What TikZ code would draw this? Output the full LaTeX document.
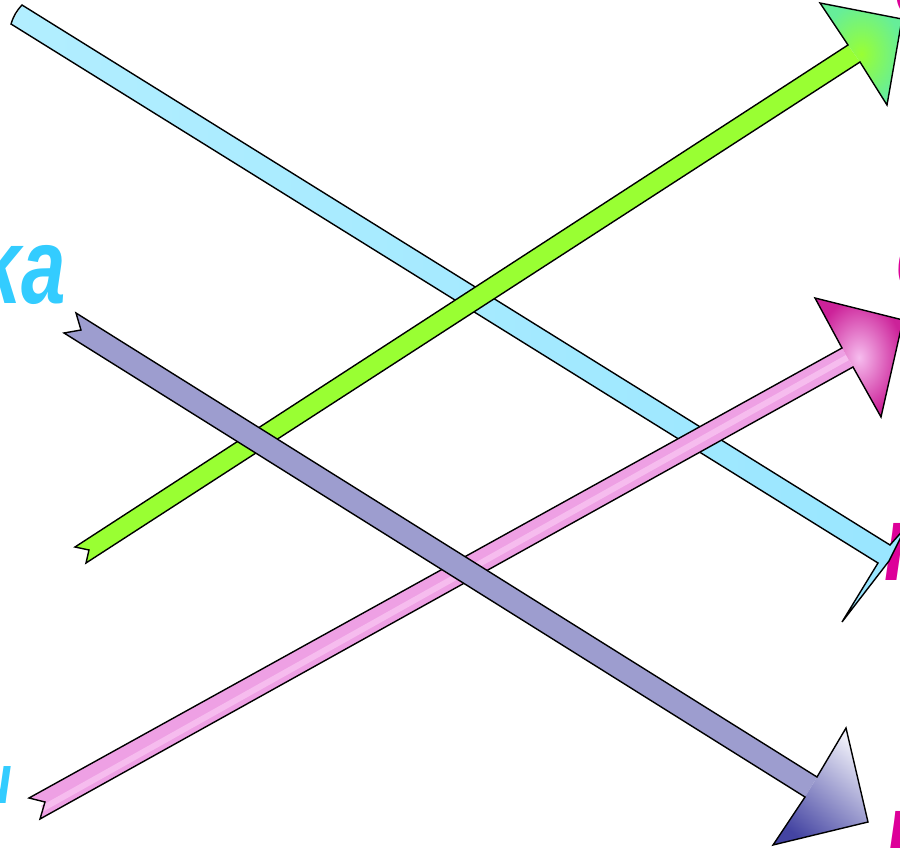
\documentclass[tikz,border=0pt]{standalone}
\usepackage{fontspec}
\usepackage{tikz}
\usetikzlibrary{calc}

\newfontfamily\wordfont{Liberation Sans}[FakeStretch=0.74]
\definecolor{skyword}{HTML}{33CCFF}
\definecolor{pinkword}{HTML}{DD0099}
\definecolor{skyfill}{HTML}{99E6FF}
\definecolor{skylight}{HTML}{B2EEFF}
\definecolor{limefill}{HTML}{99FF33}
\definecolor{limeedge}{HTML}{66EE99}
\definecolor{lilacfill}{HTML}{9D9DCF}
\definecolor{lilaclight}{HTML}{EEEEF8}
\definecolor{lilacdark}{HTML}{4444A2}
\definecolor{rosefill}{HTML}{EEA0E4}
\definecolor{roselight}{HTML}{F6BCEE}
\definecolor{rosedark}{HTML}{CC2299}

\begin{document}
\begin{tikzpicture}[x=1pt, y=-1pt,
    outl/.style={draw=black, line width=1.4pt, line join=miter},
    word/.style={font=\wordfont\bfseries\itshape\fontsize{108}{108}\selectfont, inner sep=0pt}]
    \useasboundingbox (0,0) rectangle (900,848);

    % words, cut off by the page edges
    \node[word, text=skyword, anchor=base east] (ka) at (66,303) {ka};
    \node[word, text=skyword, anchor=base east, font=\wordfont\bfseries\itshape\fontsize{70}{70}\selectfont] (u) at (12,803) {u};
    \node[word, text=pinkword, anchor=base west] (o1) at (894,17) {o};
    \node[word, text=pinkword, anchor=base west] (o2) at (896,292) {o};
    \node[word, text=pinkword, anchor=base west] (n1) at (884,580) {n};
    \node[word, text=pinkword, anchor=base west] (n2) at (886,868) {n};

    % sky blue arrow
    \coordinate (skyA) at (22,5);
    \coordinate (skyB) at (11,24);
    \coordinate (skyC) at (878,563);
    \coordinate (skyD) at (890,545);
    \shade[left color=skylight, right color=skyfill] (skyA) -- (skyD) -- (906,527) -- (889,561) -- (842,622) -- (skyC) -- (skyB) -- cycle;
    \draw[outl] (skyA) to[bend right=12] (skyB) -- (skyC) -- (842,622) -- (889,561) -- (906,527) -- (skyD) -- cycle;

    % green arrow
    \coordinate (limeA) at (75,547);
    \coordinate (limeB) at (86,563);
    \coordinate (limeC) at (860,62);
    \coordinate (limeD) at (848,45);
    \fill[limefill] (limeA) -- (limeD) -- (limeC) -- (limeB) -- (89,550) -- cycle;
    \shade[inner color=limefill, outer color=limeedge] (limeD) -- (820,3) -- (902,19) -- (887,105) -- (limeC) -- cycle;
    \draw[outl] (limeA) -- (limeD) -- (820,3) -- (902,19) -- (887,105) -- (limeC) -- (limeB) -- (89,550) -- cycle;

    % pink arrow
    \coordinate (roseA) at (29,798);
    \coordinate (roseB) at (40,819);
    \coordinate (roseC) at (853,367);
    \coordinate (roseD) at (842,348);
    \fill[rosefill] (roseA) -- (roseD) -- (roseC) -- (roseB) -- (45,802) -- cycle;
    \draw[roselight, line width=6pt] ($(roseA)!0.5!(roseB)+(8,0)$) -- ($(roseC)!0.5!(roseD)$);
    \shade[inner color=roselight, outer color=rosedark] (roseD) -- (815,298) -- (903,320) -- (881,417) -- (roseC) -- cycle;
    \draw[outl] (roseA) -- (roseD) -- (815,298) -- (903,320) -- (881,417) -- (roseC) -- (roseB) -- (45,802) -- cycle;

    % purple arrow
    \coordinate (lilacA) at (76,313);
    \coordinate (lilacB) at (64,333);
    \coordinate (lilacC) at (805,797);
    \coordinate (lilacD) at (817,777);
    \fill[lilacfill] (lilacA) -- (lilacD) -- (lilacC) -- (lilacB) -- (81,330) -- cycle;
    \shade[top color=lilaclight, bottom color=lilacdark, shading angle=-40] (lilacD) -- (846,728) -- (868,822) -- (773,845) -- (lilacC) -- cycle;
    \draw[outl] (lilacA) -- (lilacD) -- (846,728) -- (868,822) -- (773,845) -- (lilacC) -- (lilacB) -- (81,330) -- cycle;
\end{tikzpicture}
\end{document}
